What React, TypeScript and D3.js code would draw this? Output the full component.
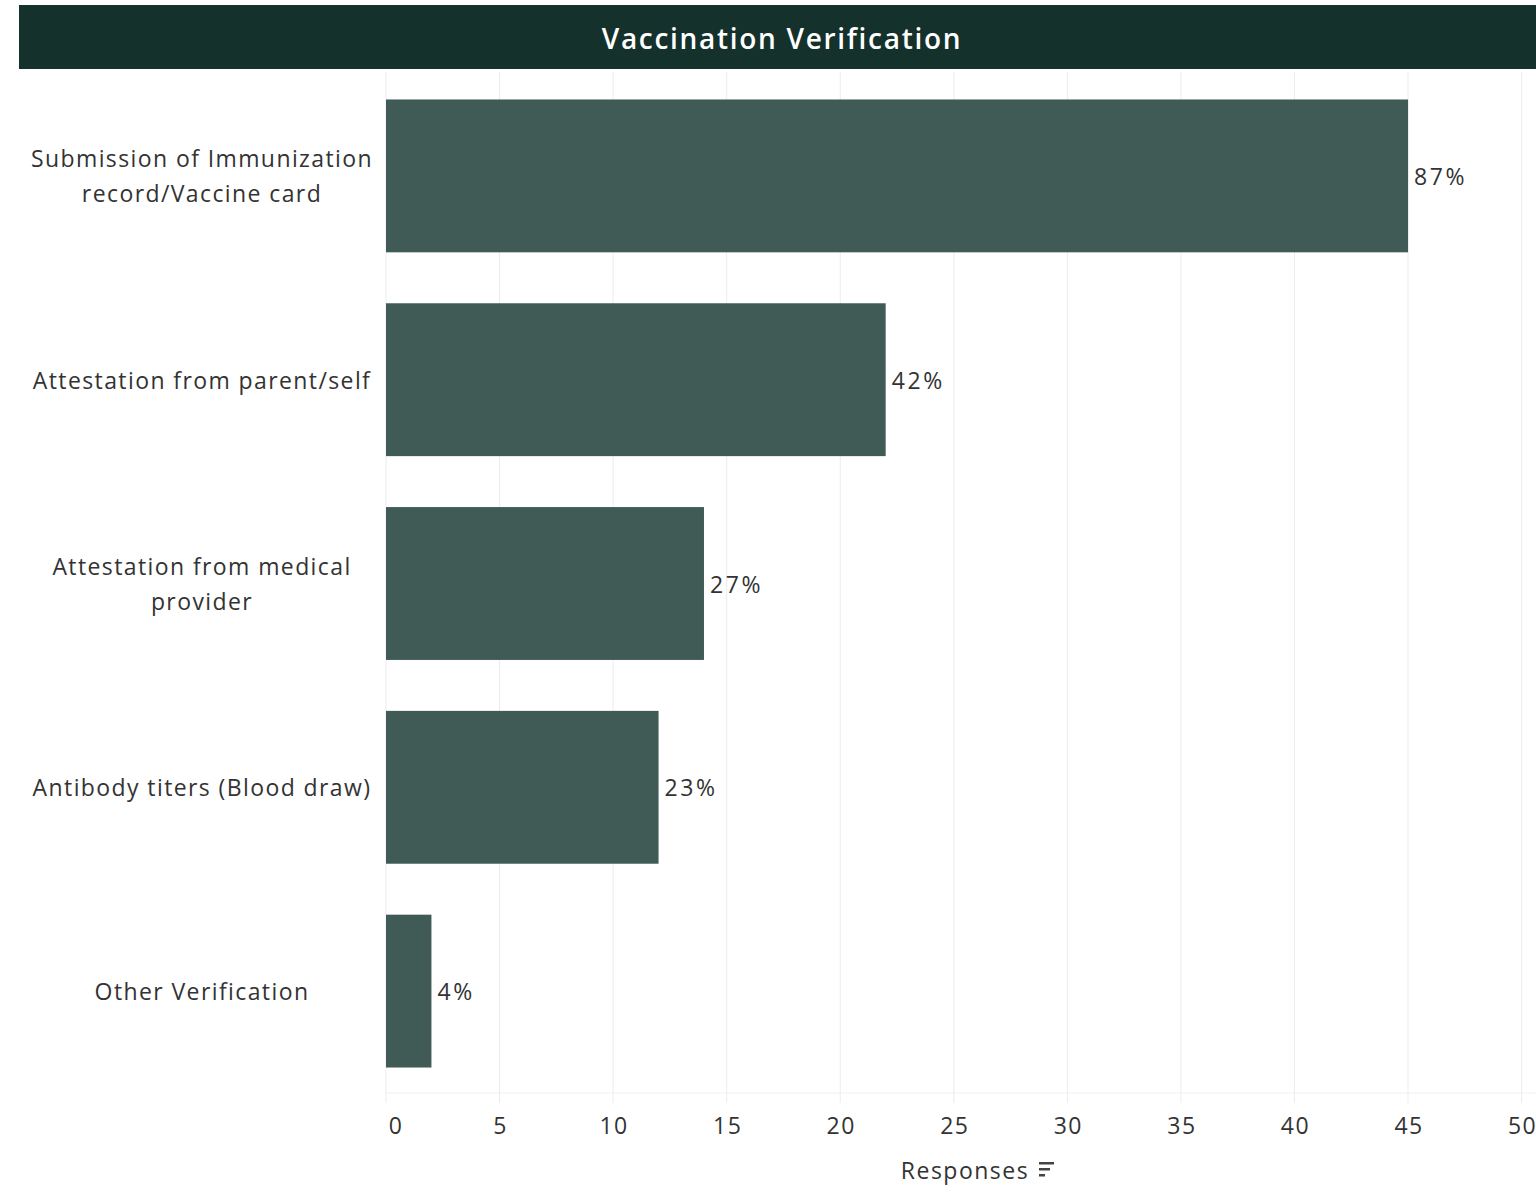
import React from "react";
import * as d3 from "d3";

const categories: string[][] = [
  ["Submission of Immunization", "record/Vaccine card"],
  ["Attestation from parent/self"],
  ["Attestation from medical", "provider"],
  ["Antibody titers (Blood draw)"],
  ["Other Verification"],
];
const responses: number[] = [45, 22, 14, 12, 2];
const percentLabels: string[] = ["87%", "42%", "27%", "23%", "4%"];
const tickValues: number[] = [0, 5, 10, 15, 20, 25, 30, 35, 40, 45, 50];
const title = "Vaccination Verification";
const axisTitle = "Responses";

const W = 1536;
const H = 1196;
const FONT = "'Open Sans', 'DejaVu Sans', sans-serif";

export default function App() {
  const x = d3.scaleLinear().domain([0, 50]).range([386, 1521.6]);
  const keys = categories.map((c) => c.join(" "));
  const y = d3.scaleBand<string>().domain(keys).range([74, 1093]).paddingInner(0.25).paddingOuter(0.125);
  const lineH = 35;

  return (
    <svg
      width={W}
      height={H}
      style={{ position: "absolute", left: 0, top: 0, background: "#fff" }}
      fontFamily={FONT}
    >
      <rect x={0} y={0} width={W} height={H} fill="#fff" />
      {/* title bar */}
      <rect x={19} y={5} width={W - 19} height={64} fill="#14312c" />
      <text x={782} y={38} fill="#fff" fontSize={28} fontWeight={600} letterSpacing={1.7} textAnchor="middle" dominantBaseline="central">
        {title}
      </text>
      {/* gridlines */}
      {tickValues.map((t) => (
        <line key={"g" + t} x1={x(t)} x2={x(t)} y1={72} y2={1103} stroke="#ececec" strokeWidth={1} />
      ))}
      <line x1={386} x2={W} y1={1093} y2={1093} stroke="#f0f0f0" strokeWidth={1} />
      {/* bars */}
      {responses.map((v, i) => {
        const k = keys[i];
        const by = y(k)!;
        const bh = y.bandwidth();
        return (
          <g key={k}>
            <rect x={x(0)} y={by} width={x(v) - x(0)} height={bh} fill="#405a55" />
            <text x={x(v) + 6} y={by + bh / 2} fontSize={23} letterSpacing={2.6} fill="#333" dominantBaseline="central">
              {percentLabels[i]}
            </text>
            {categories[i].map((line, j) => (
              <text
                key={j}
                x={202}
                y={by + bh / 2 + (j - (categories[i].length - 1) / 2) * lineH}
                fontSize={23}
                letterSpacing={1.4}
                fill="#333"
                textAnchor="middle"
                dominantBaseline="central"
              >
                {line}
              </text>
            ))}
          </g>
        );
      })}
      {/* tick labels */}
      {tickValues.map((t) => (
        <text
          key={"t" + t}
          x={t === 0 ? x(t) + 10 : x(t) + 1}
          y={1125}
          fontSize={23}
          letterSpacing={1.5}
          fill="#333"
          textAnchor="middle"
          dominantBaseline="central"
        >
          {t}
        </text>
      ))}
      {/* axis title */}
      <text x={965} y={1170} fontSize={23} letterSpacing={1.5} fill="#333" textAnchor="middle" dominantBaseline="central">
        {axisTitle}
      </text>
      <g fill="#444">
        <rect x={1039} y={1162} width={15} height={2.5} />
        <rect x={1039} y={1168} width={11} height={2.5} />
        <rect x={1039} y={1174} width={6} height={2.5} />
      </g>
    </svg>
  );
}
